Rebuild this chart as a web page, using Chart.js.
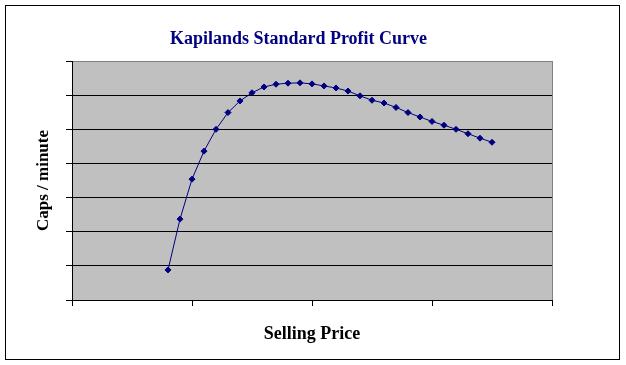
<!DOCTYPE html>
<html lang="en">
<head>
    <meta charset="UTF-8">
    <title>Kapilands Standard Profit Curve</title>
    <script src="https://cdn.jsdelivr.net/npm/chart.js"></script>
    <style>
        body { margin: 0; background: #fff; }
        .chart-frame {
            position: absolute;
            left: 5px;
            top: 5px;
            width: 613px;
            height: 353px;
            border: 1px solid #000;
        }
    </style>
</head>
<body>
    <div class="chart-frame">
        <canvas id="profitChart" width="613" height="353"></canvas>
    </div>

    <script>
        // Selling price (x) and output in caps per minute (y)
        const prices = [0.8, 0.9, 1.0, 1.1, 1.2, 1.3, 1.4, 1.5, 1.6, 1.7,
                        1.8, 1.9, 2.0, 2.1, 2.2, 2.3, 2.4, 2.5, 2.6, 2.7,
                        2.8, 2.9, 3.0, 3.1, 3.2, 3.3, 3.4, 3.5];
        const capsPerMinute = [0.88, 2.37, 3.54, 4.36, 5.00, 5.49, 5.83, 6.07, 6.24, 6.32,
                               6.35, 6.36, 6.33, 6.27, 6.21, 6.12, 5.98, 5.85, 5.77, 5.64,
                               5.49, 5.36, 5.23, 5.12, 5.00, 4.87, 4.74, 4.62];

        // axis ranges (the original shows no tick labels)
        const xRange = [0, 4];
        const yRange = [0, 7];

        const serif = "'Times New Roman', 'Liberation Serif', serif";

        // grey plot area behind the grid
        const plotBackground = {
            id: 'plotBackground',
            beforeDraw(chart) {
                const a = chart.chartArea;
                const ctx = chart.ctx;
                ctx.save();
                ctx.fillStyle = '#c0c0c0';
                ctx.fillRect(a.left, a.top, a.right - a.left, a.bottom - a.top);
                ctx.restore();
            }
        };

        var ctx = document.getElementById('profitChart').getContext('2d');
        var profitChart = new Chart(ctx, {
            type: 'line',
            data: {
                datasets: [{
                    label: 'Caps / minute',
                    data: prices.map((p, i) => ({ x: p, y: capsPerMinute[i] })),
                    borderColor: '#000080',
                    borderWidth: 1,
                    tension: 0,
                    pointStyle: 'rectRot',
                    pointRadius: 3,
                    pointBorderWidth: 1,
                    pointBackgroundColor: '#000080',
                    pointBorderColor: '#000080'
                }]
            },
            options: {
                responsive: false,
                animation: false,
                devicePixelRatio: 1,
                layout: {
                    padding: { left: 0, top: 0, right: 67, bottom: 0 }
                },
                scales: {
                    x: {
                        type: 'linear',
                        min: xRange[0],
                        max: xRange[1],
                        ticks: { display: false, stepSize: 1 },
                        grid: {
                            color: c => c.tick.value === xRange[1] ? '#808080' : 'rgba(0,0,0,0)',
                            tickColor: '#000',
                            tickLength: 6,
                            lineWidth: 1
                        },
                        border: { color: '#000', width: 1 },
                        title: {
                            display: true,
                            text: 'Selling Price',
                            color: '#000',
                            font: { family: serif, size: 18, weight: 'bold' },
                            padding: { top: 18, bottom: 13.7 }
                        },
                        afterFit: s => { s.height = 59; }
                    },
                    y: {
                        min: yRange[0],
                        max: yRange[1],
                        ticks: { display: false, stepSize: 1 },
                        grid: {
                            color: c => c.tick.value === yRange[1] ? '#808080' : '#000',
                            tickColor: '#000',
                            tickLength: 6,
                            lineWidth: 1
                        },
                        border: { color: '#000', width: 1 },
                        title: {
                            display: true,
                            text: 'Caps / minute',
                            color: '#000',
                            font: { family: serif, size: 17, weight: 'bold' },
                            padding: { top: 27, bottom: 12 }
                        },
                        afterFit: s => { s.width = 66; }
                    }
                },
                plugins: {
                    legend: { display: false },
                    tooltip: { enabled: false },
                    title: {
                        display: true,
                        fullSize: false,
                        // trailing spaces nudge the centred title a little left, like the original
                        text: 'Kapilands Standard Profit Curve\u00a0\u00a0\u00a0\u00a0\u00a0\u00a0',
                        color: '#000080',
                        font: { family: serif, size: 18, weight: 'bold' },
                        padding: { top: 22.2, bottom: 11.2 }
                    }
                }
            },
            plugins: [plotBackground]
        });
    </script>
</body>
</html>
